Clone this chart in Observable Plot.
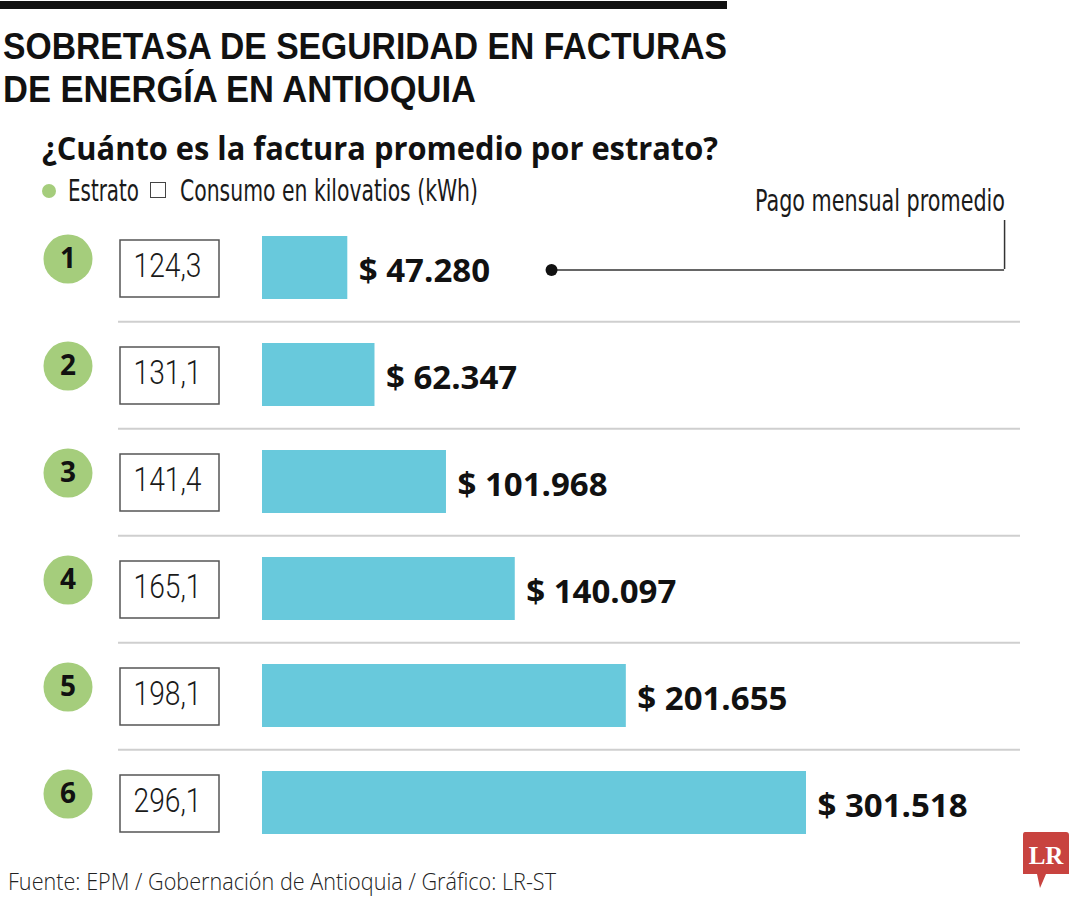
<!DOCTYPE html>
<html><head><meta charset="utf-8">
<script src="https://cdn.jsdelivr.net/npm/d3@7"></script>
<script src="https://cdn.jsdelivr.net/npm/@observablehq/plot@0.6"></script>
<style>
body{margin:0;background:#fff;width:1080px;height:900px;position:relative;overflow:hidden;font-family:"Open Sans",sans-serif;color:#111;}
.abs{position:absolute;white-space:nowrap;line-height:1;}
.fit{display:inline-block;transform-origin:0 0;}
.title{font-family:"Liberation Sans",Arial,sans-serif;font-size:37.5px;font-weight:700;line-height:42.7px;}
.narrow{font-family:"Liberation Sans Narrow","DejaVu Sans Condensed","Roboto",sans-serif;font-weight:400;color:#1a1a1a;}
#bar{position:absolute;left:0;top:1px;width:727px;height:8px;background:#111;}
#chart{position:absolute;left:0;top:212px;}
</style></head>
<body>
<div id="bar"></div>
<div class="abs title" style="left:3px;top:25px;"><span class="fit" data-w="724">SOBRETASA DE SEGURIDAD EN FACTURAS</span></div>
<div class="abs title" style="left:3px;top:67.7px;"><span class="fit" data-w="473">DE ENERGÍA EN ANTIOQUIA</span></div>
<div class="abs" style="left:42px;top:132px;font-size:32px;font-weight:700;"><span class="fit" data-w="676">¿Cuánto es la factura promedio por estrato?</span></div>
<div class="abs narrow" style="left:42px;top:176px;font-size:30px;">
  <span style="position:absolute;left:0;top:8px;width:14px;height:14px;border-radius:50%;background:#a5cd7c;"></span>
  <span style="position:absolute;left:26px;top:0"><span class="fit" data-w="71">Estrato</span></span>
  <span style="position:absolute;left:108px;top:6px;width:16px;height:16px;border:1.5px solid #444;box-sizing:border-box;"></span>
  <span style="position:absolute;left:138px;top:0"><span class="fit" data-w="298">Consumo en kilovatios (kWh)</span></span>
</div>
<div class="abs narrow" style="left:755px;top:186px;font-size:30px;"><span class="fit" data-w="250">Pago mensual promedio</span></div>
<div id="chart"></div>
<div class="abs" style="left:8px;top:869px;font-size:24px;font-weight:300;color:#222;"><span class="fit" data-w="548">Fuente: EPM / Gobernación de Antioquia / Gráfico: LR-ST</span></div>
<svg style="position:absolute;left:1020px;top:828px" width="55" height="64">
  <path d="M5,4 H46 Q49,4 49,7 V46 H26 L20,60 L17,46 H3 V7 Q3,4 5,4 Z" fill="#c8433f"/>
  <text x="26" y="36" text-anchor="middle" font-family="Liberation Serif, DejaVu Serif, serif" font-weight="700" font-size="25" fill="#fff">LR</text>
</svg>
<script>
// ---- data ----
const estratos = ["1", "2", "3", "4", "5", "6"];
const consumoKwh = [124.3, 131.1, 141.4, 165.1, 198.1, 296.1];
const pagoMensual = [47280, 62347, 101968, 140097, 201655, 301518];
const annotacionPago = [160200, 411300]; // dot and elbow of the "Pago mensual promedio" leader, in pesos

const esLocale = d3.formatLocale({decimal: ",", thousands: ".", grouping: [3], currency: ["$ ", ""]});
const fmtKwh = esLocale.format(".1f");
const fmtPago = esLocale.format("$,d");

const rows = estratos.map((e, i) => ({estrato: e, consumo: consumoKwh[i], pago: pagoMensual[i]}));
const boxSymbol = {draw(ctx) { ctx.rect(-49.5, -28, 99, 57); }};
const light = "Roboto, Liberation Sans Narrow, sans-serif";

const plot = Plot.plot({
  width: 1080, height: 646,
  marginTop: 0, marginBottom: 0, marginLeft: 118, marginRight: 60,
  x: {domain: [0, d3.max(pagoMensual)], range: [262, 806], axis: null},
  y: {domain: estratos, type: "band", padding: 0, axis: null},
  style: {fontFamily: "Open Sans, sans-serif", overflow: "visible", background: "transparent"},
  marks: [
    Plot.ruleY(rows.slice(0, 5), {y: "estrato", dy: 53.8, stroke: "#cfcfcf", strokeWidth: 2}),
    Plot.ruleY(rows.slice(0, 1), {y: "estrato", x1: () => annotacionPago[0], x2: () => annotacionPago[1], dy: 2, stroke: "#333", strokeWidth: 1.5}),
    Plot.ruleX(rows.slice(0, 1), {x: () => annotacionPago[1], y1: "estrato", y2: "estrato", insetTop: 6, insetBottom: 52, stroke: "#333", strokeWidth: 1.5}),
    Plot.dot(rows.slice(0, 1), {x: () => annotacionPago[0], y: "estrato", dy: 2, r: 6, fill: "#111"}),
    Plot.dot(rows, {y: "estrato", frameAnchor: "left", dx: -50.5, dy: -9, r: 24.5, fill: "#a5cd7c"}),
    Plot.text(rows, {y: "estrato", text: "estrato", frameAnchor: "left", dx: -50.5, dy: -9, textAnchor: "middle", fontSize: 28, fontWeight: 700, fill: "#111"}),
    Plot.dot(rows, {y: "estrato", frameAnchor: "left", dx: 51, r: 10, symbol: boxSymbol, fill: "#fff", stroke: "#555", strokeWidth: 1.5}),
    Plot.text(rows, {y: "estrato", text: d => fmtKwh(d.consumo), frameAnchor: "left", dx: 49, dy: -2, textAnchor: "middle", fontSize: 34, fontWeight: 300, fontFamily: light, fill: "#1a1a1a", className: "boxnum"}),
    Plot.barX(rows, {y: "estrato", x: "pago", fill: "#68c9dc", insetTop: 22, insetBottom: 22}),
    Plot.text(rows, {y: "estrato", x: "pago", text: d => fmtPago(d.pago), dx: 11, dy: 3, textAnchor: "start", fontSize: 33, fontWeight: 700, fill: "#111"})
  ]
});
d3.select(plot).selectAll(".boxnum text").attr("textLength", 68).attr("lengthAdjust", "spacingAndGlyphs");
document.getElementById("chart").appendChild(plot);

function fitAll() {
  document.querySelectorAll(".fit").forEach(el => {
    el.style.transform = "none";
    const w = el.getBoundingClientRect().width;
    const target = +el.dataset.w;
    if (w > 0) el.style.transform = `scaleX(${target / w})`;
  });
}
fitAll();
if (document.fonts) document.fonts.ready.then(fitAll);
</script>
</body></html>
